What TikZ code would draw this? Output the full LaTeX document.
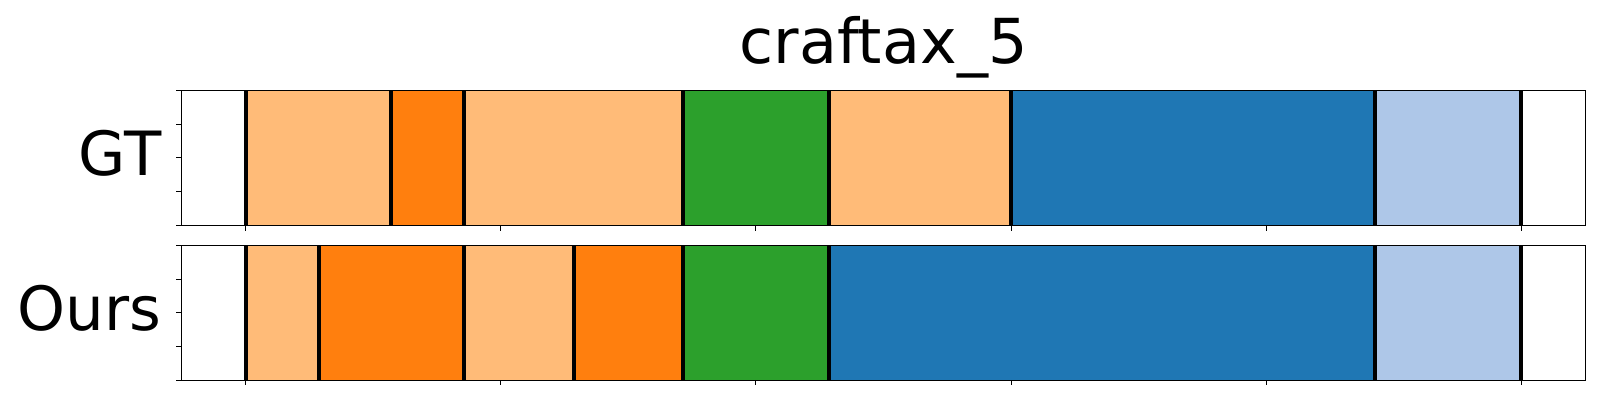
\documentclass[tikz,border=0pt]{standalone}
\usepackage{fontspec}
\setmainfont{DejaVu Sans}
\definecolor{tlo}{HTML}{FFBB78}
\definecolor{tor}{HTML}{FF7F0E}
\definecolor{tgr}{HTML}{2CA02C}
\definecolor{tbl}{HTML}{1F77B4}
\definecolor{tlb}{HTML}{AEC7E8}
\tikzset{
  frame/.style={draw=black, line width=1pt},
  divider/.style={draw=black, line width=4pt},
  tickmark/.style={draw=black, line width=0.9pt},
  lbl/.style={font=\fontsize{61}{70}\selectfont, inner sep=0pt, anchor=base east},
  ttl/.style={font=\fontsize{62}{70}\selectfont, inner sep=0pt, anchor=base},
}
\newcommand{\ux}{36.44}
\newcommand{\ox}{245.7}
\begin{document}
\begin{tikzpicture}[x=1pt,y=-1pt]
\useasboundingbox (0,0) rectangle (1600,400);
% top axis: y 90.3 .. 225.3 ; bottom axis: y 245.3 .. 380
\foreach \a/\b/\c in {0/4/tlo,4/6/tor,6/12/tlo,12/16/tgr,16/21/tlo,21/31/tbl,31/35/tlb}{
  \fill[\c] ({\ox+\ux*\a},90.3) rectangle ({\ox+\ux*\b},225.3);
}
\foreach \a/\b/\c in {0/2/tlo,2/6/tor,6/9/tlo,9/12/tor,12/16/tgr,16/31/tbl,31/35/tlb}{
  \fill[\c] ({\ox+\ux*\a},245.3) rectangle ({\ox+\ux*\b},380);
}
\foreach \a in {0,4,6,12,16,21,31,35}{
  \draw[divider] ({\ox+\ux*\a},90.3) -- ({\ox+\ux*\a},225.3);
}
\foreach \a in {0,2,6,9,12,16,31,35}{
  \draw[divider] ({\ox+\ux*\a},245.3) -- ({\ox+\ux*\a},380);
}
% frames
\draw[frame] (181.3,90.3) rectangle (1585.7,225.3);
\draw[frame] (181.3,245.3) rectangle (1585.7,380);
% x ticks
\foreach \t in {0,7,14,21,28,35}{
  \draw[tickmark] ({\ox+\ux*\t},225.3) -- ({\ox+\ux*\t},230.6);
  \draw[tickmark] ({\ox+\ux*\t},380) -- ({\ox+\ux*\t},385.3);
}
% y ticks
\foreach \k in {0,1,2,3,4}{
  \draw[tickmark] (181.3,{90.3+33.75*\k}) -- (176,{90.3+33.75*\k});
  \draw[tickmark] (181.3,{245.3+33.675*\k}) -- (176,{245.3+33.675*\k});
}
\node[ttl] (title) at (883.5,63.3) {craftax\_5};
\node[lbl] (gt) at (161.5,175) {GT};
\node[lbl] (ours) at (161.5,330.7) {Ours};
\end{tikzpicture}
\end{document}
